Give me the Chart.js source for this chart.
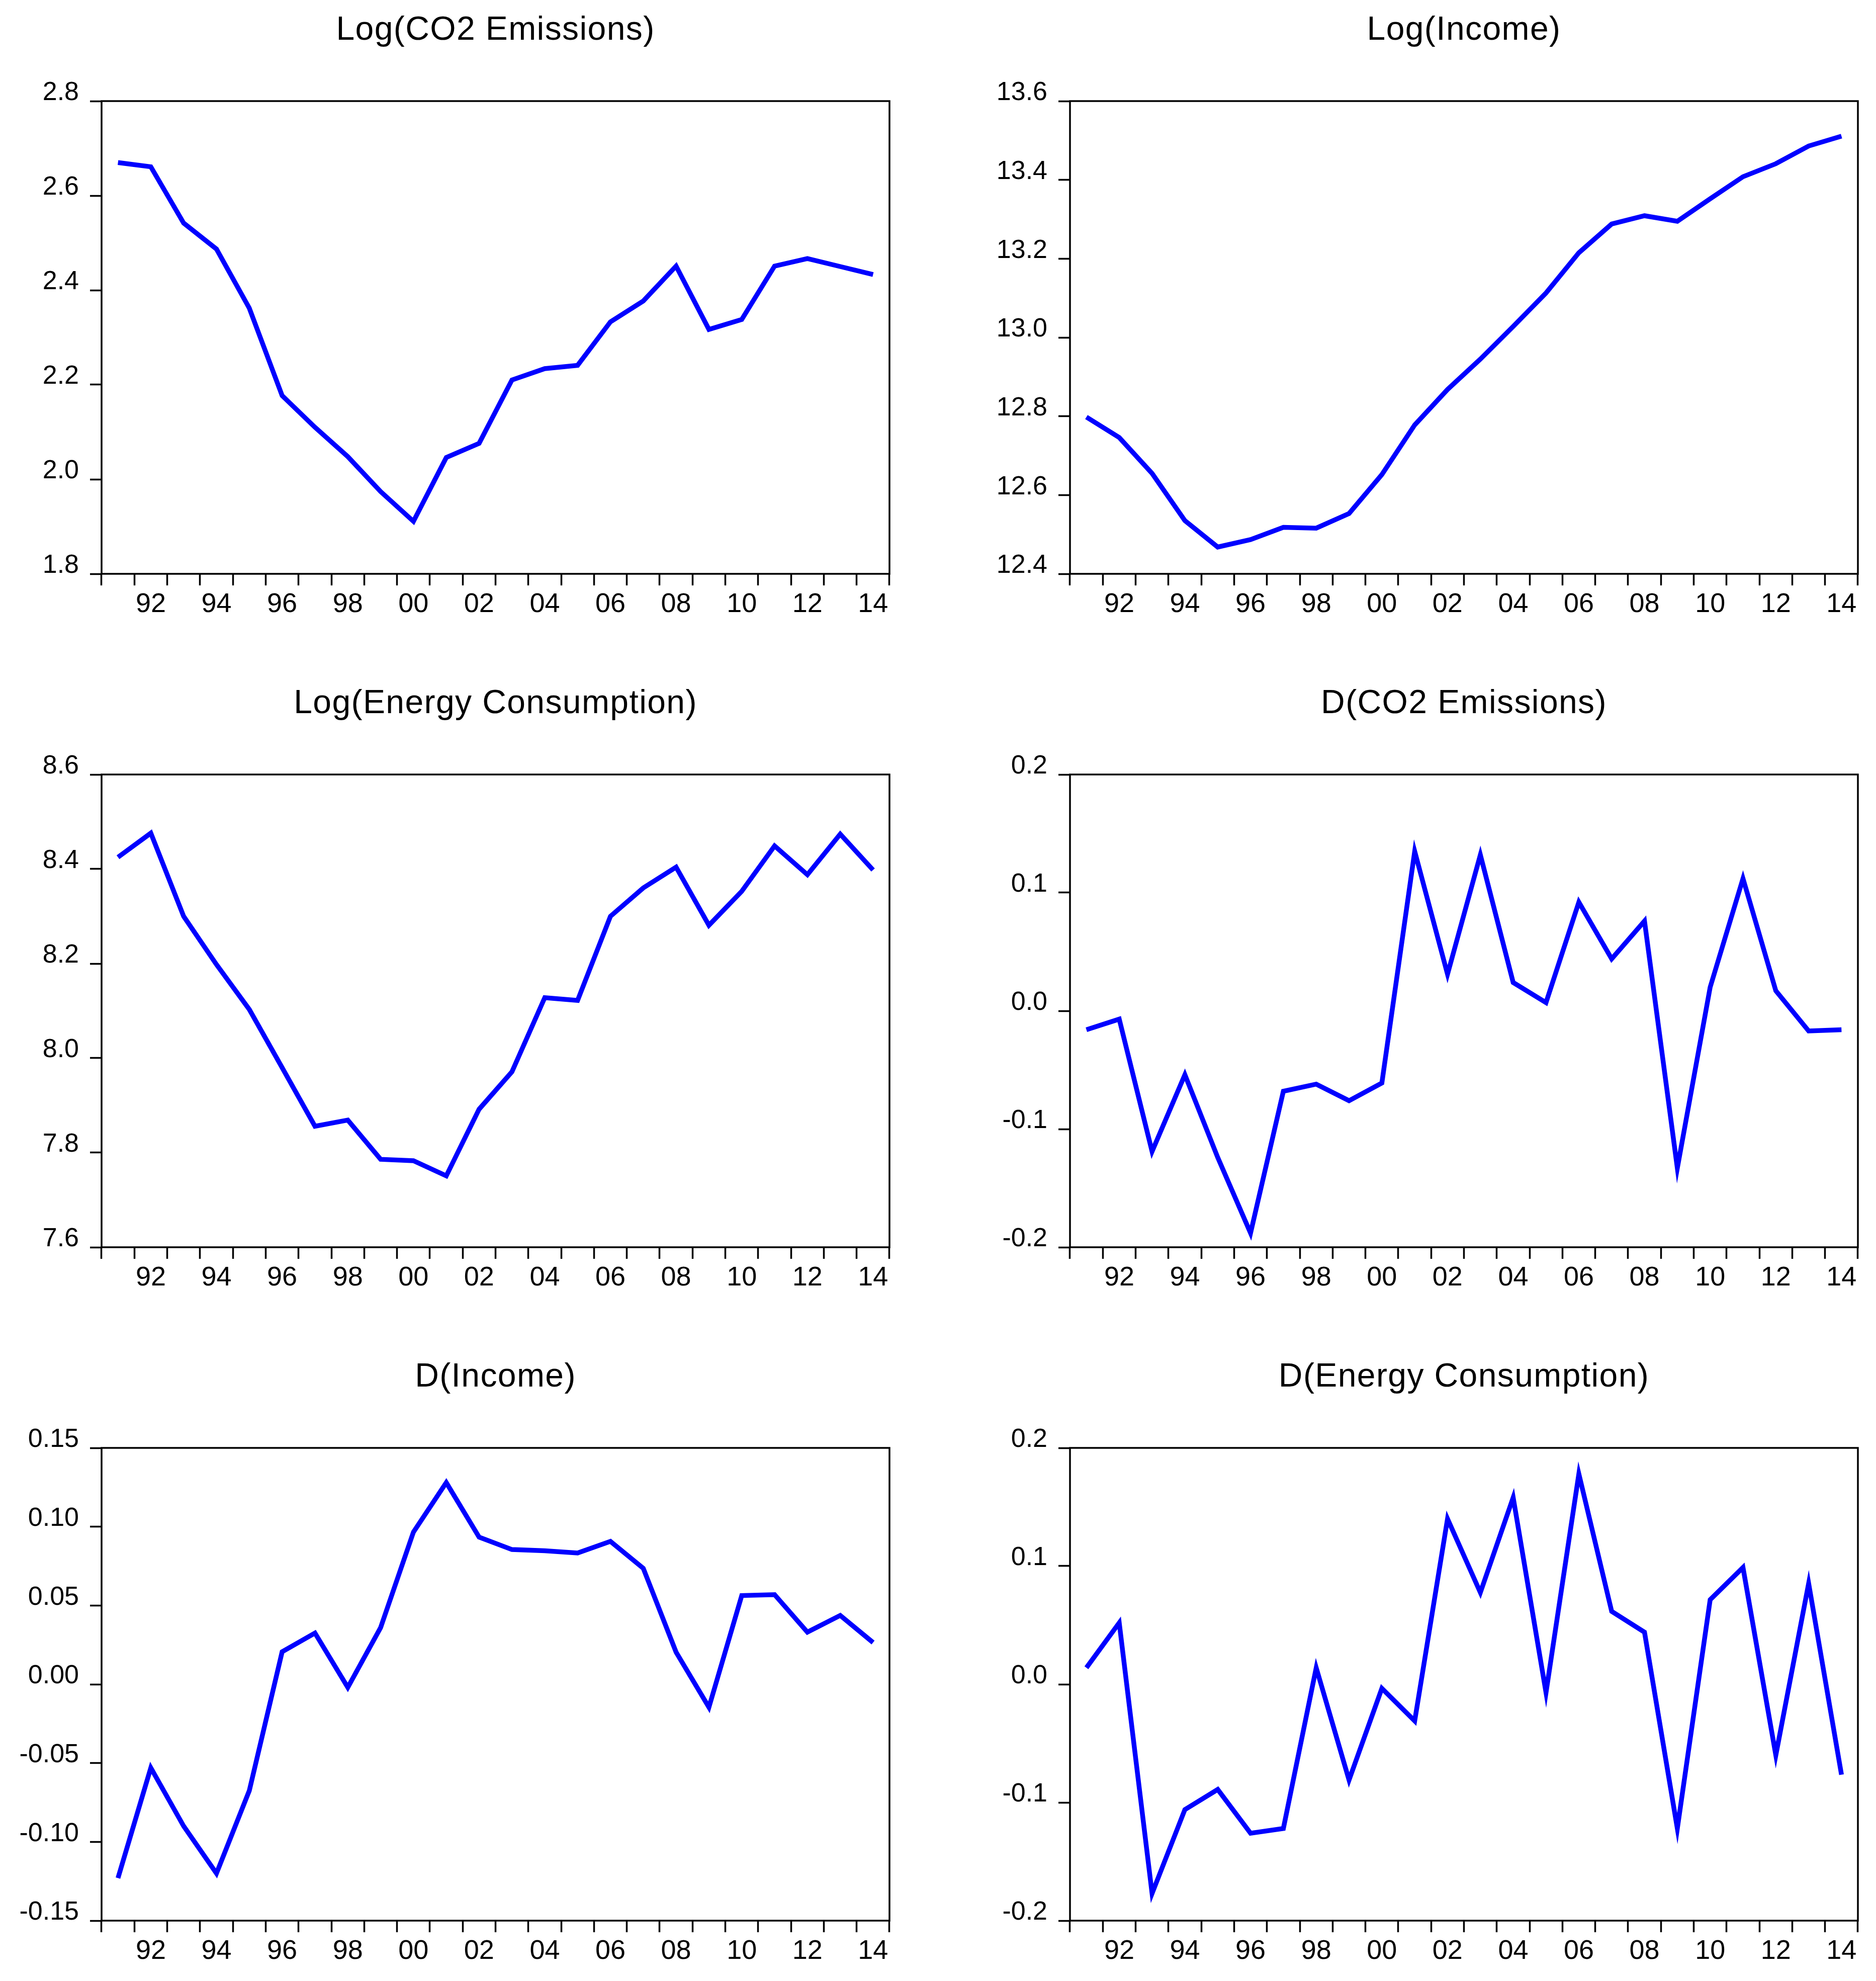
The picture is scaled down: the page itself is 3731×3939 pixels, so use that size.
<!DOCTYPE html>
<html>
<head>
<meta charset="utf-8">
<title>Log and first-difference series, 1991-2014</title>
<script src="https://cdn.jsdelivr.net/npm/chart.js@4.4.1/dist/chart.umd.min.js"></script>
<style>
  html, body { margin: 0; padding: 0; background: #ffffff; }
  body { width: 3731px; height: 3939px; position: relative; overflow: hidden; }
  .panel { position: absolute; }
  .panel canvas { display: block; }
</style>
</head>
<body>
<div class="panel" style="left:0px;top:1px"><canvas id="logCo2Chart" width="1789" height="1250"></canvas></div>
<div class="panel" style="left:1926px;top:1px"><canvas id="logIncomeChart" width="1789" height="1250"></canvas></div>
<div class="panel" style="left:0px;top:1340px"><canvas id="logEnergyChart" width="1789" height="1250"></canvas></div>
<div class="panel" style="left:1926px;top:1340px"><canvas id="dCo2Chart" width="1789" height="1250"></canvas></div>
<div class="panel" style="left:0px;top:2679px"><canvas id="dIncomeChart" width="1789" height="1250"></canvas></div>
<div class="panel" style="left:1926px;top:2679px"><canvas id="dEnergyChart" width="1789" height="1250"></canvas></div>

<script>
// Роки спостережень
const years = [1991, 1992, 1993, 1994, 1995, 1996, 1997, 1998, 1999, 2000, 2001, 2002,
               2003, 2004, 2005, 2006, 2007, 2008, 2009, 2010, 2011, 2012, 2013, 2014];

// Ряди
const logCo2 = [2.670, 2.661, 2.542, 2.487, 2.362, 2.177, 2.110, 2.048, 1.974, 1.911, 2.046, 2.076,
                2.210, 2.234, 2.241, 2.333, 2.377, 2.451, 2.317, 2.338, 2.451, 2.467, 2.450, 2.433];
const logIncome = [12.798, 12.746, 12.655, 12.535, 12.468, 12.487, 12.518, 12.516, 12.553, 12.652, 12.778, 12.868,
                   12.945, 13.028, 13.113, 13.215, 13.288, 13.309, 13.295, 13.352, 13.408, 13.441, 13.486, 13.511];
const logEnergy = [8.425, 8.476, 8.300, 8.198, 8.103, 7.980, 7.856, 7.869, 7.786, 7.783, 7.751, 7.892,
                   7.971, 8.128, 8.122, 8.300, 8.360, 8.404, 8.281, 8.353, 8.449, 8.388, 8.474, 8.398];
const dCo2 = [-0.016, -0.007, -0.119, -0.054, -0.124, -0.188, -0.068, -0.062, -0.076, -0.061, 0.135, 0.031,
              0.132, 0.024, 0.007, 0.092, 0.044, 0.076, -0.133, 0.020, 0.112, 0.017, -0.017, -0.016];
const dIncome = [-0.123, -0.053, -0.090, -0.120, -0.0675, 0.0206, 0.0325, -0.002, 0.036, 0.0966, 0.128, 0.0934,
                 0.0855, 0.0847, 0.0833, 0.0907, 0.0736, 0.0204, -0.0146, 0.0563, 0.0569, 0.0331, 0.0437, 0.0265];
const dEnergy = [0.014, 0.052, -0.177, -0.106, -0.089, -0.126, -0.122, 0.014, -0.081, -0.0035, -0.031, 0.140,
                 0.0776, 0.158, -0.007, 0.178, 0.0617, 0.0441, -0.122, 0.0716, 0.0988, -0.060, 0.0854, -0.0765];

// Межі осей Y та крок
const logCo2Axis = [1.8, 2.8, 0.2];
const logIncomeAxis = [12.4, 13.6, 0.2];
const logEnergyAxis = [7.6, 8.6, 0.2];
const dCo2Axis = [-0.2, 0.2, 0.1];
const dIncomeAxis = [-0.15, 0.15, 0.05];
const dEnergyAxis = [-0.2, 0.2, 0.1];

const fontFamily = '"Liberation Sans", Arial, sans-serif';
Chart.defaults.font.family = fontFamily;
Chart.defaults.color = '#000000';

// Рамка навколо області графіка
const framePlugin = {
    id: 'frame',
    afterDatasetsDraw(chart) {
        const { ctx, chartArea: a } = chart;
        ctx.save();
        ctx.strokeStyle = '#000000';
        ctx.lineWidth = 3.5;
        ctx.strokeRect(a.left, a.top, a.right - a.left, a.bottom - a.top);
        ctx.restore();
    }
};

function makePanel(id, title, values, axis, decimals) {
    const [yMin, yMax, yStep] = axis;
    const chart = new Chart(document.getElementById(id), {
        type: 'line',
        data: {
            labels: years,
            datasets: [{
                data: values,
                borderColor: '#0000ff',
                borderWidth: 9.5,
                pointRadius: 0,
                tension: 0,
                fill: false
            }]
        },
        options: {
            responsive: false,
            animation: false,
            devicePixelRatio: 1,
            layout: { padding: { left: 0, right: 20, top: 0, bottom: 0 } },
            plugins: {
                legend: { display: false },
                tooltip: { enabled: false },
                title: {
                    display: true,
                    text: title,
                    fullSize: false,
                    color: '#000000',
                    font: { family: fontFamily, size: 66, weight: 'normal', lineHeight: 1.25 },
                    padding: { top: 18.75, bottom: 98.75 }
                }
            },
            scales: {
                x: {
                    type: 'category',
                    offset: true,
                    border: { display: false },
                    grid: {
                        offset: true,
                        drawOnChartArea: false,
                        drawTicks: true,
                        tickLength: 23,
                        tickWidth: 3.5,
                        tickColor: '#000000'
                    },
                    ticks: {
                        autoSkip: false,
                        maxRotation: 0,
                        minRotation: 0,
                        padding: 6,
                        color: '#000000',
                        font: { size: 54 },
                        callback: (v, i) => years[i] % 2 === 0 ? String(years[i]).slice(2) : ''
                    },
                    afterFit: (scale) => { scale.height = 110; }
                },
                y: {
                    min: yMin,
                    max: yMax,
                    border: { display: false },
                    grid: {
                        drawOnChartArea: false,
                        drawTicks: true,
                        tickLength: 23,
                        tickWidth: 3.5,
                        tickColor: '#000000'
                    },
                    ticks: {
                        stepSize: yStep,
                        padding: 22,
                        color: '#000000',
                        // підпис сидить над рискою: другий порожній рядок зсуває його вгору
                        font: { size: 52, lineHeight: 0.62 },
                        callback: (v) => [(Math.abs(v) < 1e-9 ? 0 : v).toFixed(decimals), '']
                    },
                    afterFit: (scale) => { scale.width = 202; }
                }
            }
        },
        plugins: [framePlugin]
    });

    // трохи розрідити літери заголовка, як в оригіналі
    const block = chart.titleBlock;
    const drawTitle = block.draw.bind(block);
    block.draw = () => {
        chart.ctx.letterSpacing = '1.4px';
        drawTitle();
        chart.ctx.letterSpacing = '0px';
    };
    chart.draw();
    return chart;
}

document.addEventListener('DOMContentLoaded', () => {
    makePanel('logCo2Chart', 'Log(CO2 Emissions)', logCo2, logCo2Axis, 1);
    makePanel('logIncomeChart', 'Log(Income)', logIncome, logIncomeAxis, 1);
    makePanel('logEnergyChart', 'Log(Energy Consumption)', logEnergy, logEnergyAxis, 1);
    makePanel('dCo2Chart', 'D(CO2 Emissions)', dCo2, dCo2Axis, 1);
    makePanel('dIncomeChart', 'D(Income)', dIncome, dIncomeAxis, 2);
    makePanel('dEnergyChart', 'D(Energy Consumption)', dEnergy, dEnergyAxis, 1);
});
</script>
</body>
</html>
